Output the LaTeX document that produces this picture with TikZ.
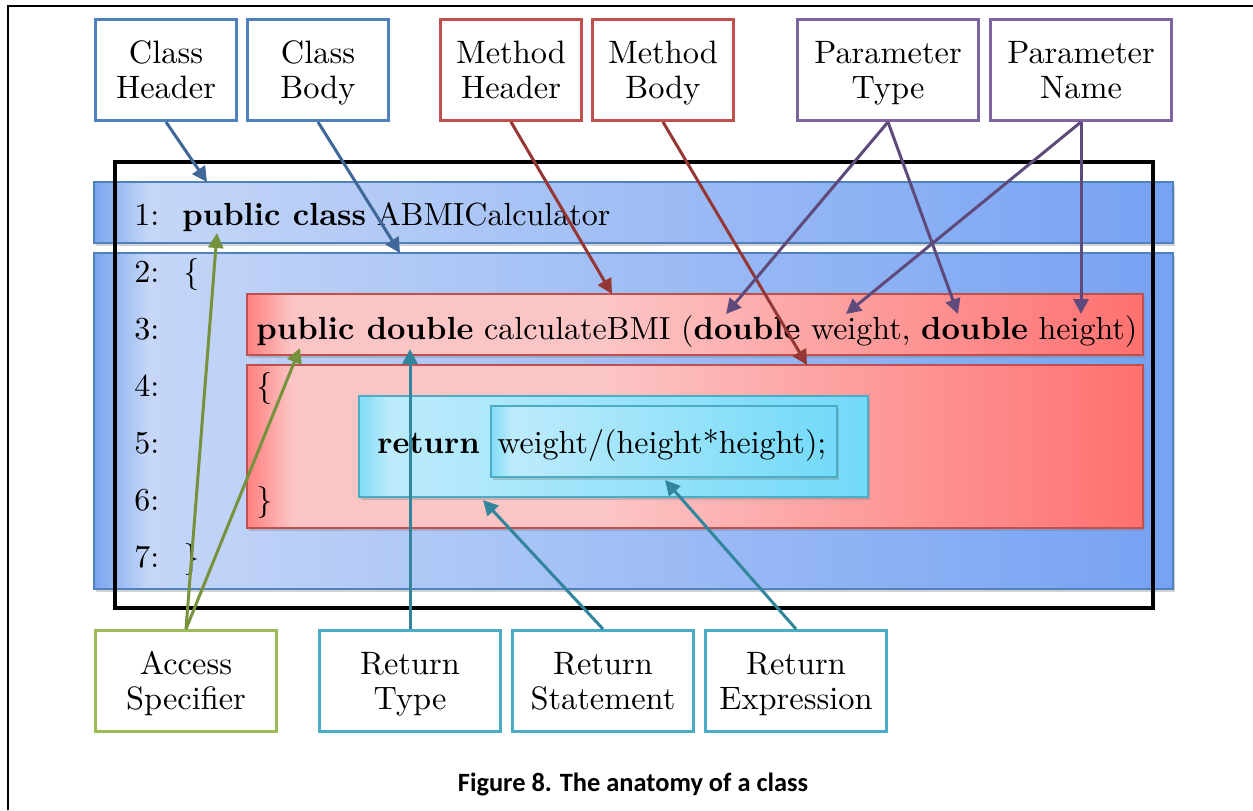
\documentclass[tikz,border=0pt]{standalone}
\usepackage{fontspec}
\setmainfont{lmroman10-regular}[Extension=.otf, BoldFont=lmroman10-bold]
\newfontfamily\capfont{Carlito}
\usetikzlibrary{positioning}
\usetikzlibrary{arrows.meta}
\usetikzlibrary{shadows}

\definecolor{blueline}{HTML}{4F81BD}
\definecolor{bluearrow}{HTML}{3F6797}
\definecolor{redline}{HTML}{C0504D}
\definecolor{redarrow}{HTML}{953735}
\definecolor{purpleline}{HTML}{8064A2}
\definecolor{purplearrow}{HTML}{5F4A7C}
\definecolor{greenline}{HTML}{9BBB59}
\definecolor{greenarrow}{HTML}{76923C}
\definecolor{cyanline}{HTML}{4BACC6}
\definecolor{cyanarrow}{HTML}{31859C}

\definecolor{bluedge}{HTML}{7AA3EF}
\definecolor{bluelite}{HTML}{C5D6F7}
\definecolor{bluedark}{HTML}{76A2F3}
\definecolor{redge}{HTML}{FF7F7F}
\definecolor{redlite}{HTML}{FCC5C5}
\definecolor{reddark}{HTML}{FF7070}
\definecolor{cyanedge}{HTML}{80DCF5}
\definecolor{cyanlite}{HTML}{BDEBFB}
\definecolor{cyandark}{HTML}{72DAF8}

\pgfdeclarehorizontalshading{blueband}{100bp}{color(0bp)=(bluedge); color(25bp)=(bluedge);
  color(27.5bp)=(bluelite); color(75bp)=(bluedark); color(100bp)=(bluedark)}
\pgfdeclarehorizontalshading{redband}{100bp}{color(0bp)=(redge); color(25bp)=(redge);
  color(27.5bp)=(redlite); color(45bp)=(redlite); color(75bp)=(reddark); color(100bp)=(reddark)}
\pgfdeclarehorizontalshading{cyanband}{100bp}{color(0bp)=(cyanedge); color(25bp)=(cyanedge);
  color(28bp)=(cyanlite); color(75bp)=(cyandark); color(100bp)=(cyandark)}

\begin{document}
\begin{tikzpicture}[x=0.5pt, y=-0.5pt,
    lbl/.style={draw, line width=1.5pt, fill=white, minimum width=70.5pt,
      minimum height=50.5pt, align=center, inner sep=0pt,
      text height=31pt, text depth=3pt,
      font=\fontsize{16.2}{17.5}\selectfont},
    wide/.style={lbl, minimum width=90.5pt},
    code/.style={anchor=base west, inner sep=0pt, font=\fontsize{16}{19}\selectfont},
    band/.style={shade, shading=#1, line width=0.6pt,
      drop shadow={shadow xshift=1pt, shadow yshift=-1.5pt, opacity=0.35}},
    arr/.style={line width=1.5pt, -{Triangle[length=7.5pt, width=7.5pt]}}
  ]
  \useasboundingbox (0,0) rectangle (1253,810);
  \draw[line width=1pt] (8,810) -- (8,6) -- (1253,6);

  % code background
  \path[band=blueband, draw=blueline] (94,182) rectangle (1173,243);
  \path[band=blueband, draw=blueline] (94,253) rectangle (1173,589);
  \path[band=redband, draw=redline] (247,294) rectangle (1143,355);
  \path[band=redband, draw=redline] (247,365) rectangle (1143,528);
  \path[band=cyanband, draw=cyanline] (359,396) rectangle (868,497);
  \path[band=cyanband, draw=cyanline] (491,406) rectangle (837,477);
  \draw[line width=1.75pt] (115,162) rectangle (1153,608);

  \node[code] (n1) at (134,225) {1:};
  \node[code] (n2) at (134,282) {2:};
  \node[code] (n3) at (134,339) {3:};
  \node[code] (n4) at (134,396) {4:};
  \node[code] (n5) at (134,453) {5:};
  \node[code] (n6) at (134,510) {6:};
  \node[code] (n7) at (134,567) {7:};
  \node[code] (c1) at (182,225) {\textbf{public class} ABMICalculator};
  \node[code] (c2) at (183,282) {\{};
  \node[code] (c3) at (256,339) {\textbf{public double} calculateBMI (\textbf{double} weight, \textbf{double} height)};
  \node[code] (c4) at (256,396) {\{};
  \node[code] (c5) at (377,453) {\textbf{return}};
  \node[code] (c5b) at (497,453) {weight/(height*height);};
  \node[code] (c6) at (256,510) {\}};
  \node[code] (c7) at (183,567) {\}};

  % labels
  \node[lbl, draw=blueline] (chead) at (166,70) {Class\\Header};
  \node[lbl, draw=blueline, right=4pt of chead] (cbody) {Class\\Body};
  \node[lbl, draw=redline, right=24.5pt of cbody] (mhead) {Method\\Header};
  \node[lbl, draw=redline, right=4pt of mhead] (mbody) {Method\\Body};
  \node[wide, draw=purpleline, right=30.5pt of mbody] (ptype) {Parameter\\Type};
  \node[wide, draw=purpleline, right=4.5pt of ptype] (pname) {Parameter\\Name};
  \node[wide, draw=greenline] (access) at (186,681) {Access\\Specifier};
  \node[wide, draw=cyanline, right=20pt of access] (rtype) {Return\\Type};
  \node[wide, draw=cyanline, right=4.5pt of rtype] (rstmt) {Return\\Statement};
  \node[wide, draw=cyanline, right=4.5pt of rstmt] (rexpr) {Return\\Expression};

  \coordinate (chead_to) at (207,182);
  \coordinate (cbody_to) at (400,253);
  \coordinate (mhead_to) at (612,294);
  \coordinate (mbody_to) at (807,365);
  \coordinate (ptype_to1) at (726,314);
  \coordinate (ptype_to2) at (958,314);
  \coordinate (pname_to1) at (846,314);
  \coordinate (pname_to2) at (1081,314);
  \coordinate (access_to1) at (217,233);
  \coordinate (access_to2) at (300,348);
  \coordinate (rtype_to) at (410,349);
  \coordinate (rstmt_to) at (483,500);
  \coordinate (rexpr_to) at (665,480);

  \draw[arr, bluearrow] (chead.south) -- (chead_to);
  \draw[arr, bluearrow] (cbody.south) -- (cbody_to);
  \draw[arr, redarrow] (mhead.south) -- (mhead_to);
  \draw[arr, redarrow] (mbody.south) -- (mbody_to);
  \draw[arr, purplearrow] (ptype.south) -- (ptype_to1);
  \draw[arr, purplearrow] (ptype.south) -- (ptype_to2);
  \draw[arr, purplearrow] (pname.south) -- (pname_to1);
  \draw[arr, purplearrow] (pname.south) -- (pname_to2);
  \draw[arr, greenarrow] (access.north) -- (access_to1);
  \draw[arr, greenarrow] (access.north) -- (access_to2);
  \draw[arr, cyanarrow] (rtype.north) -- (rtype_to);
  \draw[arr, cyanarrow] (rstmt.north) -- (rstmt_to);
  \draw[arr, cyanarrow] (rexpr.north) -- (rexpr_to);

  \node[anchor=base, font=\capfont\fontsize{13.2}{16}\selectfont\bfseries] (caption) at (633,791)
    {Figure 8. The anatomy of a class};
\end{tikzpicture}
\end{document}
